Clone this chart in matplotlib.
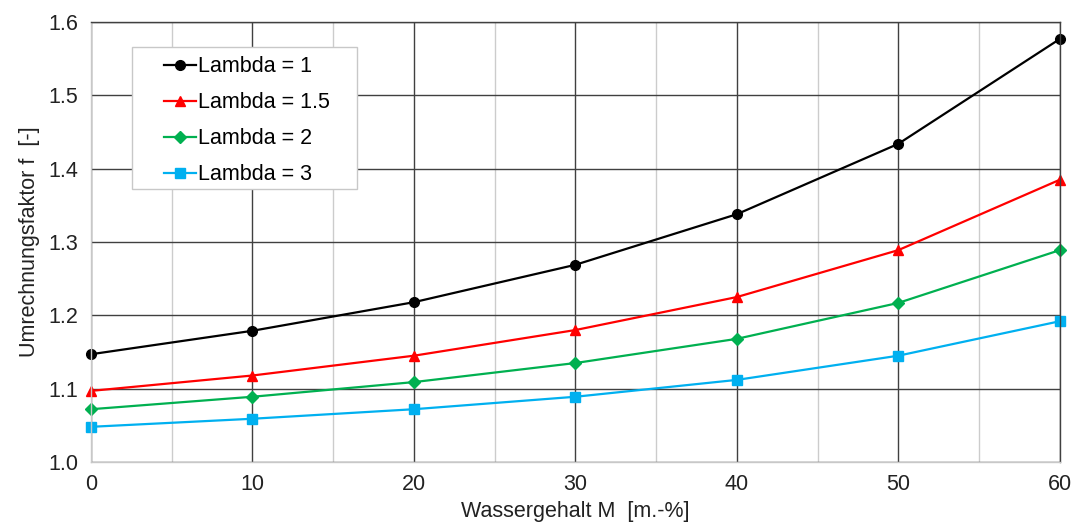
import numpy as np
import matplotlib.pyplot as plt
from matplotlib.ticker import MultipleLocator
from matplotlib.patches import Rectangle

plt.rcParams['font.family'] = ['Liberation Sans', 'DejaVu Sans']

# Wassergehalt M [m.-%]
wassergehalt = [0, 10, 20, 30, 40, 50, 60]

# Umrechnungsfaktor f fuer verschiedene Lambda
f_lambda_1 = [1.147, 1.179, 1.218, 1.269, 1.338, 1.434, 1.577]
f_lambda_15 = [1.097, 1.118, 1.145, 1.180, 1.225, 1.289, 1.385]
f_lambda_2 = [1.072, 1.089, 1.109, 1.135, 1.168, 1.217, 1.289]
f_lambda_3 = [1.048, 1.059, 1.072, 1.089, 1.112, 1.145, 1.192]

labels = ['Lambda = 1', 'Lambda = 1.5', 'Lambda = 2', 'Lambda = 3']

fig = plt.figure(figsize=(10.74, 5.28), dpi=100)
ax = fig.add_axes([0.0847, 0.125, 0.902, 0.833])

ax.plot(wassergehalt, f_lambda_1, color='black', marker='o', ms=7, lw=1.6, label=labels[0], clip_on=False)
ax.plot(wassergehalt, f_lambda_15, color='#ff0000', marker='^', ms=7, lw=1.6, label=labels[1], clip_on=False)
ax.plot(wassergehalt, f_lambda_2, color='#00b050', marker='D', ms=6, lw=1.6, label=labels[2], clip_on=False)
ax.plot(wassergehalt, f_lambda_3, color='#00b0f0', marker='s', ms=6.5, lw=1.6, label=labels[3], clip_on=False)

ax.set_xlim(0, 60)
ax.set_ylim(1.0, 1.6)
ax.xaxis.set_major_locator(MultipleLocator(10))
ax.xaxis.set_minor_locator(MultipleLocator(5))
ax.yaxis.set_major_locator(MultipleLocator(0.1))
ax.yaxis.set_major_formatter(plt.FormatStrFormatter('%.1f'))

ax.grid(which='major', color='#404040', lw=1.0)
ax.grid(which='minor', axis='x', color='#cccccc', lw=1.0)
ax.set_axisbelow(True)

for side in ['left', 'bottom']:
    ax.spines[side].set_color('#c8c8c8')
    ax.spines[side].set_linewidth(1.0)
for side in ['top', 'right']:
    ax.spines[side].set_color('#404040')
    ax.spines[side].set_linewidth(1.0)

ax.tick_params(which='both', length=0, labelsize=15.5, colors='#222222', pad=9)

ax.set_xlabel('Wassergehalt M  [m.-%]', fontsize=15.5, color='#222222', labelpad=4)
ax.set_ylabel('Umrechnungsfaktor f  [-]', fontsize=15.5, color='#222222', labelpad=6)

# Legendenrahmen separat, damit das Innenabstand wie im Original passt
ax.add_patch(Rectangle((0.0423, 0.620), 0.232, 0.323, transform=ax.transAxes,
                       facecolor='white', edgecolor='#c8c8c8', lw=1.0, zorder=4))
leg = ax.legend(loc='upper left', bbox_to_anchor=(0.0753, 0.923), fontsize=15.5,
                frameon=False, borderpad=0, labelspacing=0.7, handlelength=1.5,
                handletextpad=0.1, borderaxespad=0)
leg.set_zorder(5)

fig.savefig('out.png', dpi=100)
